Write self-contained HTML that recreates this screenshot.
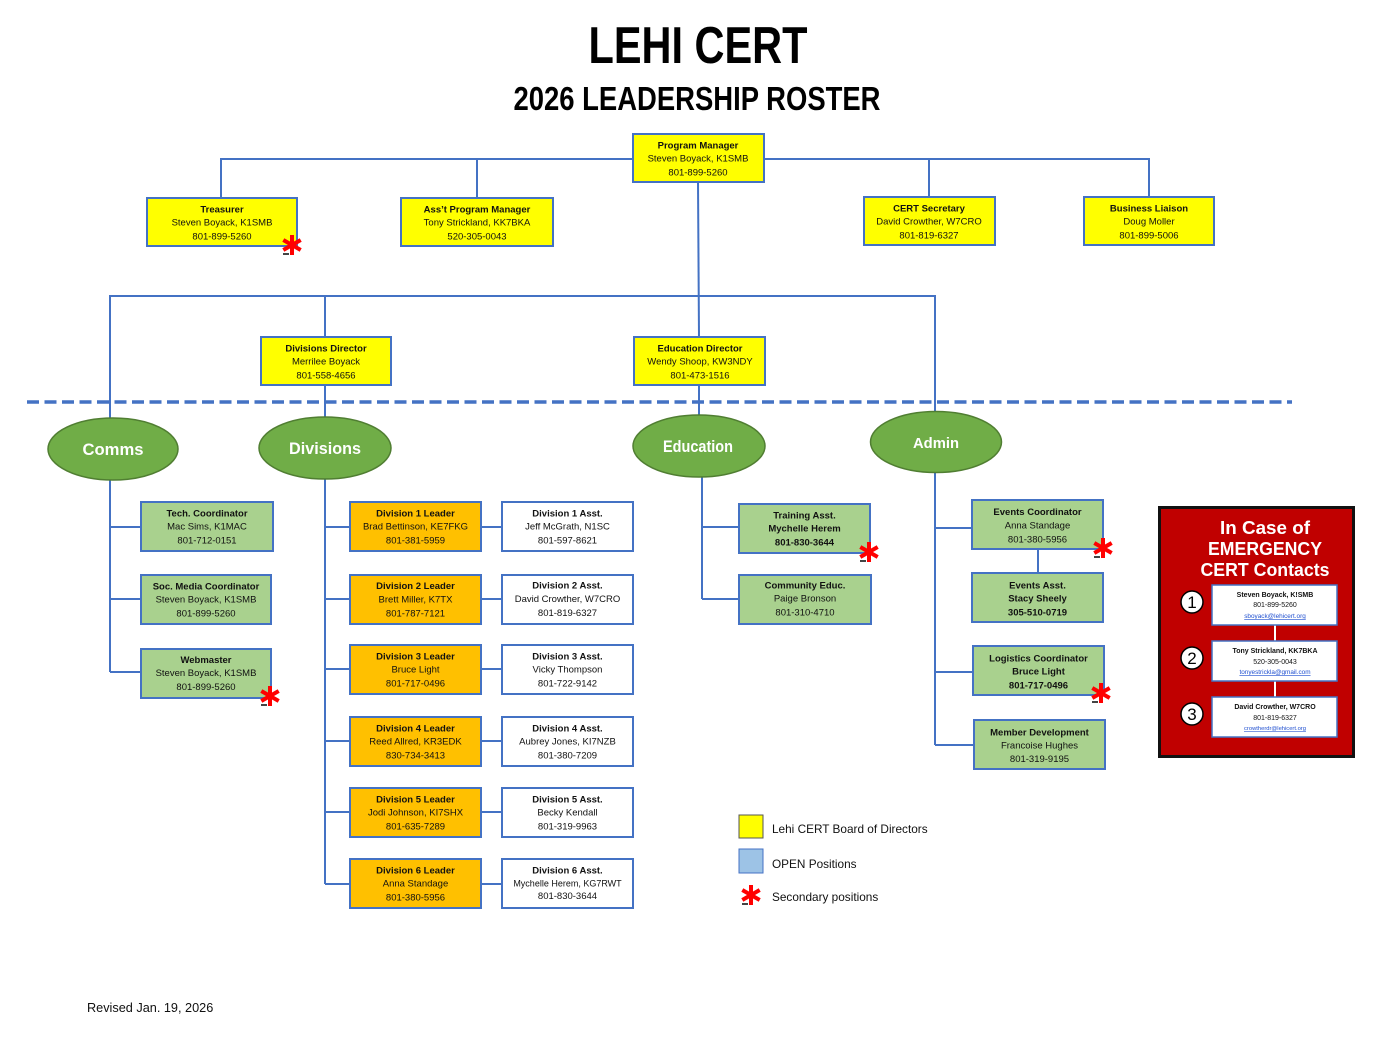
<!DOCTYPE html>
<html>
<head>
<meta charset="utf-8">
<style>
  html,body{margin:0;padding:0;background:#fff;}
  body{width:1400px;height:1054px;overflow:hidden;}
  svg{display:block;}
  .t{font-family:"Liberation Sans",Arial,sans-serif;font-size:9.5px;fill:#111;text-anchor:middle;}
  .b{font-weight:bold;}
  .ell{font-family:"Liberation Sans",Arial,sans-serif;font-weight:bold;font-size:16.5px;fill:#fff;text-anchor:middle;}
  .leg{font-family:"Liberation Sans",Arial,sans-serif;font-size:11.8px;fill:#111;}
  .em{font-family:"Liberation Sans",Arial,sans-serif;font-weight:bold;font-size:18px;fill:#fff;text-anchor:middle;}
  .ct{font-family:"Liberation Sans",Arial,sans-serif;font-size:7px;fill:#111;text-anchor:middle;}
  .lnk{font-family:"Liberation Sans",Arial,sans-serif;font-size:6.4px;fill:#1f4fd0;text-anchor:middle;text-decoration:underline;}
  .num{font-family:"Liberation Sans",Arial,sans-serif;font-size:17px;fill:#000;text-anchor:middle;}
</style>
</head>
<body>
<svg width="1400" height="1054" viewBox="0 0 1400 1054" xmlns="http://www.w3.org/2000/svg">
  <defs>
    <g id="ast">
      <rect x="-9" y="8" width="6" height="2" fill="#444"/>
      <g stroke="#ff0000" stroke-width="4" stroke-linecap="butt">
        <line x1="0" y1="-10" x2="0" y2="10"/>
        <line x1="-8.7" y1="-5" x2="8.7" y2="5"/>
        <line x1="-8.7" y1="5" x2="8.7" y2="-5"/>
      </g>
    </g>
  </defs>

  <!-- Titles -->
  <text x="698" y="63" font-family="Liberation Sans, Arial, sans-serif" font-weight="bold" font-size="52" text-anchor="middle" textLength="219" lengthAdjust="spacingAndGlyphs">LEHI CERT</text>
  <text x="697" y="110" font-family="Liberation Sans, Arial, sans-serif" font-weight="bold" font-size="33" text-anchor="middle" textLength="367" lengthAdjust="spacingAndGlyphs">2026 LEADERSHIP ROSTER</text>

  <!-- Connectors -->
  <g stroke="#4472C4" stroke-width="2" fill="none">
    <!-- top level -->
    <polyline points="221,198 221,159 1149,159 1149,197"/>
    <line x1="477" y1="159" x2="477" y2="198"/>
    <line x1="929" y1="159" x2="929" y2="197"/>
    <line x1="698" y1="182" x2="699" y2="337"/>
    <!-- second level -->
    <polyline points="110,418 110,296 935,296 935,412"/>
    <line x1="325" y1="296" x2="325" y2="337"/>
    <line x1="325" y1="385" x2="325" y2="417"/>
    <line x1="699" y1="385" x2="699" y2="415"/>
    <!-- comms -->
    <line x1="110" y1="480" x2="110" y2="672"/>
    <line x1="110" y1="527" x2="141" y2="527"/>
    <line x1="110" y1="599" x2="141" y2="599"/>
    <line x1="110" y1="672" x2="141" y2="672"/>
    <!-- divisions -->
    <line x1="325" y1="479" x2="325" y2="884"/>
    <line x1="325" y1="527" x2="350" y2="527"/>
    <line x1="325" y1="599" x2="350" y2="599"/>
    <line x1="325" y1="669" x2="350" y2="669"/>
    <line x1="325" y1="741" x2="350" y2="741"/>
    <line x1="325" y1="812" x2="350" y2="812"/>
    <line x1="325" y1="884" x2="350" y2="884"/>
    <line x1="481" y1="527" x2="502" y2="527"/>
    <line x1="481" y1="599" x2="502" y2="599"/>
    <line x1="481" y1="669" x2="502" y2="669"/>
    <line x1="481" y1="741" x2="502" y2="741"/>
    <line x1="481" y1="812" x2="502" y2="812"/>
    <line x1="481" y1="884" x2="502" y2="884"/>
    <!-- education -->
    <line x1="702" y1="477" x2="702" y2="599"/>
    <line x1="702" y1="527" x2="739" y2="527"/>
    <line x1="702" y1="599" x2="739" y2="599"/>
    <!-- admin -->
    <line x1="935" y1="473" x2="935" y2="745"/>
    <line x1="935" y1="528" x2="972" y2="528"/>
    <line x1="935" y1="672" x2="973" y2="672"/>
    <line x1="935" y1="745" x2="974" y2="745"/>
    <line x1="1038" y1="549" x2="1038" y2="573"/>
  </g>

  <!-- Dashed line -->
  <line x1="27" y1="402" x2="1292" y2="402" stroke="#4472C4" stroke-width="3.5" stroke-dasharray="12 5.5"/>

  <!-- Boxes: yellow -->
  <g stroke="#4472C4" stroke-width="2" fill="#FFFF00">
    <rect x="633" y="134" width="131" height="48"/>
    <rect x="147" y="198" width="150" height="48"/>
    <rect x="401" y="198" width="152" height="48"/>
    <rect x="864" y="197" width="131" height="48"/>
    <rect x="1084" y="197" width="130" height="48"/>
    <rect x="261" y="337" width="130" height="48"/>
    <rect x="634" y="337" width="131" height="48"/>
  </g>
  <!-- green -->
  <g stroke="#4472C4" stroke-width="2" fill="#A9D18E">
    <rect x="141" y="502" width="132" height="49"/>
    <rect x="141" y="575" width="130" height="49"/>
    <rect x="141" y="649" width="130" height="49"/>
    <rect x="739" y="504" width="131" height="49"/>
    <rect x="739" y="575" width="132" height="49"/>
    <rect x="972" y="500" width="131" height="49"/>
    <rect x="972" y="573" width="131" height="49"/>
    <rect x="973" y="646" width="131" height="49"/>
    <rect x="974" y="720" width="131" height="49"/>
  </g>
  <!-- orange -->
  <g stroke="#4472C4" stroke-width="2" fill="#FFC000">
    <rect x="350" y="502" width="131" height="49"/>
    <rect x="350" y="575" width="131" height="49"/>
    <rect x="350" y="645" width="131" height="49"/>
    <rect x="350" y="717" width="131" height="49"/>
    <rect x="350" y="788" width="131" height="49"/>
    <rect x="350" y="859" width="131" height="49"/>
  </g>
  <!-- white -->
  <g stroke="#4472C4" stroke-width="2" fill="#FFFFFF">
    <rect x="502" y="502" width="131" height="49"/>
    <rect x="502" y="575" width="131" height="49"/>
    <rect x="502" y="645" width="131" height="49"/>
    <rect x="502" y="717" width="131" height="49"/>
    <rect x="502" y="788" width="131" height="49"/>
    <rect x="502" y="859" width="131" height="49"/>
  </g>

  <!-- Box text -->
  <g>
    <text class="t b" x="698" y="148.5">Program Manager</text>
    <text class="t" x="698" y="161.5">Steven Boyack, K1SMB</text>
    <text class="t" x="698" y="175.5">801-899-5260</text>

    <text class="t b" x="222" y="212.5">Treasurer</text>
    <text class="t" x="222" y="225.5">Steven Boyack, K1SMB</text>
    <text class="t" x="222" y="239.5">801-899-5260</text>

    <text class="t b" x="477" y="212.5">Ass’t Program Manager</text>
    <text class="t" x="477" y="225.5">Tony Strickland, KK7BKA</text>
    <text class="t" x="477" y="239.5">520-305-0043</text>

    <text class="t b" x="929" y="211.5">CERT Secretary</text>
    <text class="t" x="929" y="224.5">David Crowther, W7CRO</text>
    <text class="t" x="929" y="238.5">801-819-6327</text>

    <text class="t b" x="1149" y="211.5">Business Liaison</text>
    <text class="t" x="1149" y="224.5">Doug Moller</text>
    <text class="t" x="1149" y="238.5">801-899-5006</text>

    <text class="t b" x="326" y="351.5">Divisions Director</text>
    <text class="t" x="326" y="364.5">Merrilee Boyack</text>
    <text class="t" x="326" y="378.5">801-558-4656</text>

    <text class="t b" x="700" y="351.5">Education Director</text>
    <text class="t" x="700" y="364.5">Wendy Shoop, KW3NDY</text>
    <text class="t" x="700" y="378.5">801-473-1516</text>

    <!-- Comms -->
    <text class="t b" x="207" y="516.5">Tech. Coordinator</text>
    <text class="t" x="207" y="529.5">Mac Sims, K1MAC</text>
    <text class="t" x="207" y="543.5">801-712-0151</text>

    <text class="t b" x="206" y="589.5">Soc. Media Coordinator</text>
    <text class="t" x="206" y="602.5">Steven Boyack, K1SMB</text>
    <text class="t" x="206" y="616.5">801-899-5260</text>

    <text class="t b" x="206" y="663">Webmaster</text>
    <text class="t" x="206" y="676">Steven Boyack, K1SMB</text>
    <text class="t" x="206" y="690">801-899-5260</text>

    <!-- Division leaders -->
    <text class="t b" x="415.5" y="516.5">Division 1 Leader</text>
    <text class="t" x="415.5" y="529.5">Brad Bettinson, KE7FKG</text>
    <text class="t" x="415.5" y="543.5">801-381-5959</text>

    <text class="t b" x="415.5" y="589">Division 2 Leader</text>
    <text class="t" x="415.5" y="602.5">Brett Miller, K7TX</text>
    <text class="t" x="415.5" y="616.5">801-787-7121</text>

    <text class="t b" x="415.5" y="659.5">Division 3 Leader</text>
    <text class="t" x="415.5" y="672.5">Bruce Light</text>
    <text class="t" x="415.5" y="686.5">801-717-0496</text>

    <text class="t b" x="415.5" y="731.5">Division 4 Leader</text>
    <text class="t" x="415.5" y="744.5">Reed Allred, KR3EDK</text>
    <text class="t" x="415.5" y="758.5">830-734-3413</text>

    <text class="t b" x="415.5" y="802.5">Division 5 Leader</text>
    <text class="t" x="415.5" y="815.5">Jodi Johnson, KI7SHX</text>
    <text class="t" x="415.5" y="829.5">801-635-7289</text>

    <text class="t b" x="415.5" y="873.5">Division 6 Leader</text>
    <text class="t" x="415.5" y="886.5">Anna Standage</text>
    <text class="t" x="415.5" y="900.5">801-380-5956</text>

    <!-- Division assistants -->
    <text class="t b" x="567.5" y="516.5">Division 1 Asst.</text>
    <text class="t" x="567.5" y="529.5">Jeff McGrath, N1SC</text>
    <text class="t" x="567.5" y="543.5">801-597-8621</text>

    <text class="t b" x="567.5" y="588.5">Division 2 Asst.</text>
    <text class="t" x="567.5" y="602">David Crowther, W7CRO</text>
    <text class="t" x="567.5" y="616">801-819-6327</text>

    <text class="t b" x="567.5" y="659.5">Division 3 Asst.</text>
    <text class="t" x="567.5" y="672.5">Vicky Thompson</text>
    <text class="t" x="567.5" y="686.5">801-722-9142</text>

    <text class="t b" x="567.5" y="731.5">Division 4 Asst.</text>
    <text class="t" x="567.5" y="744.5">Aubrey Jones, KI7NZB</text>
    <text class="t" x="567.5" y="758.5">801-380-7209</text>

    <text class="t b" x="567.5" y="802.5">Division 5 Asst.</text>
    <text class="t" x="567.5" y="815.5">Becky Kendall</text>
    <text class="t" x="567.5" y="829.5">801-319-9963</text>

    <text class="t b" x="567.5" y="873.5">Division 6 Asst.</text>
    <text class="t" x="567.5" y="886.5" style="font-size:9px">Mychelle Herem, KG7RWT</text>
    <text class="t" x="567.5" y="899">801-830-3644</text>

    <!-- Education -->
    <text class="t b" x="804.5" y="518.5">Training Asst.</text>
    <text class="t b" x="804.5" y="531.5">Mychelle Herem</text>
    <text class="t b" x="804.5" y="545.5">801-830-3644</text>

    <text class="t b" x="805" y="588.5">Community Educ.</text>
    <text class="t" x="805" y="601.5">Paige Bronson</text>
    <text class="t" x="805" y="615.5">801-310-4710</text>

    <!-- Admin -->
    <text class="t b" x="1037.5" y="515">Events Coordinator</text>
    <text class="t" x="1037.5" y="528.5">Anna Standage</text>
    <text class="t" x="1037.5" y="542.5">801-380-5956</text>

    <text class="t b" x="1037.5" y="588.5">Events Asst.</text>
    <text class="t b" x="1037.5" y="601.5">Stacy Sheely</text>
    <text class="t b" x="1037.5" y="615.5">305-510-0719</text>

    <text class="t b" x="1038.5" y="661.5">Logistics Coordinator</text>
    <text class="t b" x="1038.5" y="674.5">Bruce Light</text>
    <text class="t b" x="1038.5" y="688.5">801-717-0496</text>

    <text class="t b" x="1039.5" y="735.5">Member Development</text>
    <text class="t" x="1039.5" y="748.5">Francoise Hughes</text>
    <text class="t" x="1039.5" y="762">801-319-9195</text>
  </g>

  <!-- Ellipses -->
  <g fill="#70AD47" stroke="#507E32" stroke-width="1.5">
    <ellipse cx="113" cy="449" rx="65" ry="31"/>
    <ellipse cx="325" cy="448" rx="66" ry="31"/>
    <ellipse cx="699" cy="446" rx="66" ry="31"/>
    <ellipse cx="936" cy="442" rx="65.5" ry="30.5"/>
  </g>
  <g>
    <text class="ell" x="113" y="455" textLength="61" lengthAdjust="spacingAndGlyphs">Comms</text>
    <text class="ell" x="325" y="454" textLength="72" lengthAdjust="spacingAndGlyphs">Divisions</text>
    <text class="ell" x="698" y="452" textLength="70" lengthAdjust="spacingAndGlyphs">Education</text>
    <text class="ell" x="936" y="448" textLength="46" lengthAdjust="spacingAndGlyphs" style="font-size:15px">Admin</text>
  </g>

  <!-- Asterisks -->
  <use href="#ast" x="292" y="245"/>
  <use href="#ast" x="270" y="696"/>
  <use href="#ast" x="869" y="552"/>
  <use href="#ast" x="1103" y="548"/>
  <use href="#ast" x="1101" y="693"/>
  <use href="#ast" x="751" y="895"/>

  <!-- Legend -->
  <rect x="739" y="815" width="24" height="23" fill="#FFFF00" stroke="#555" stroke-width="1"/>
  <rect x="739" y="849" width="24" height="24" fill="#9DC3E6" stroke="#4472C4" stroke-width="1"/>
  <text class="leg" x="772" y="833">Lehi CERT Board of Directors</text>
  <text class="leg" x="772" y="868">OPEN Positions</text>
  <text class="leg" x="772" y="901">Secondary positions</text>

  <!-- Emergency box -->
  <rect x="1159.5" y="507.5" width="194" height="249" fill="#C00000" stroke="#111" stroke-width="3"/>
  <text class="em" x="1265" y="534" textLength="90" lengthAdjust="spacingAndGlyphs">In Case of</text>
  <text class="em" x="1265" y="555" textLength="114" lengthAdjust="spacingAndGlyphs">EMERGENCY</text>
  <text class="em" x="1265" y="576" textLength="129" lengthAdjust="spacingAndGlyphs">CERT Contacts</text>

  <g stroke="#fff" stroke-width="2">
    <line x1="1275" y1="625" x2="1275" y2="641"/>
    <line x1="1275" y1="681" x2="1275" y2="697"/>
  </g>
  <g fill="#fff" stroke="#4472C4" stroke-width="1.5">
    <rect x="1212" y="585" width="125" height="40"/>
    <rect x="1212" y="641" width="125" height="40"/>
    <rect x="1212" y="697" width="125" height="40"/>
  </g>
  <g fill="#fff" stroke="#000" stroke-width="1.5">
    <circle cx="1192" cy="602" r="11"/>
    <circle cx="1192" cy="658" r="11"/>
    <circle cx="1192" cy="714" r="11"/>
  </g>
  <text class="num" x="1192" y="608">1</text>
  <text class="num" x="1192" y="664">2</text>
  <text class="num" x="1192" y="720">3</text>

  <text class="ct b" x="1275" y="597">Steven Boyack, K!SMB</text>
  <text class="ct" x="1275" y="607">801-899-5260</text>
  <text class="lnk" x="1275" y="618">sboyack@lehicert.org</text>

  <text class="ct b" x="1275" y="653">Tony Strickland, KK7BKA</text>
  <text class="ct" x="1275" y="664">520-305-0043</text>
  <text class="lnk" x="1275" y="674">tonyestrickla@gmail.com</text>

  <text class="ct b" x="1275" y="709">David Crowther, W7CRO</text>
  <text class="ct" x="1275" y="720">801-819-6327</text>
  <text class="lnk" x="1275" y="730" style="font-size:5.8px">crowtherdr@lehicert.org</text>

  <!-- Footer -->
  <text x="87" y="1012" font-family="Liberation Sans, Arial, sans-serif" font-size="12.7" fill="#111">Revised Jan. 19, 2026</text>
</svg>
</body>
</html>
